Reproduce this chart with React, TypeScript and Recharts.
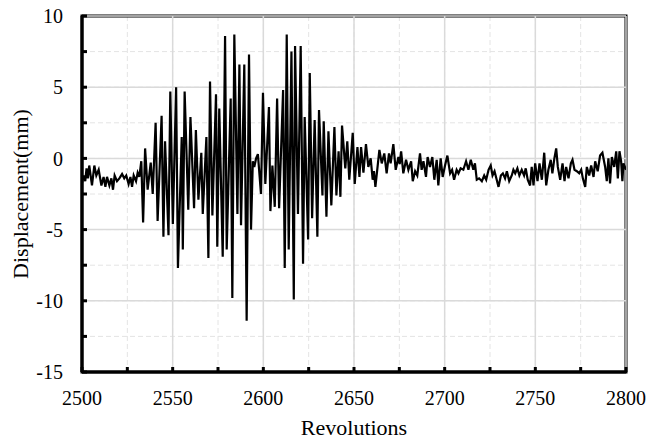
import React from 'react';
import { LineChart, Line, XAxis, YAxis, CartesianGrid, ReferenceLine, ReferenceArea } from 'recharts';

const revolutions = [
  2500.0, 2501.0, 2501.8, 2502.5, 2503.2, 2504.0, 2505.5, 2506.8, 2507.9, 2509.2,
  2510.7, 2511.9, 2512.9, 2513.8, 2515.1, 2516.2, 2517.1, 2518.0, 2519.3, 2520.6,
  2522.1, 2523.3, 2524.4, 2525.7, 2526.7, 2527.6, 2528.5, 2529.8, 2530.7, 2531.6,
  2532.7, 2533.7, 2534.8, 2536.2, 2537.9, 2539.0, 2540.6, 2541.7, 2543.9, 2544.9,
  2545.8, 2547.7, 2548.7, 2550.1, 2551.9, 2552.9, 2555.0, 2555.6, 2556.6, 2558.6,
  2559.8, 2561.8, 2562.8, 2564.2, 2565.8, 2566.6, 2568.6, 2569.7, 2570.6, 2571.9,
  2573.9, 2574.6, 2575.7, 2577.6, 2578.9, 2579.8, 2582.0, 2582.9, 2584.0, 2585.7,
  2586.8, 2587.7, 2589.5, 2590.8, 2592.1, 2593.2, 2594.2, 2595.0, 2596.0, 2597.0,
  2598.7, 2599.8, 2601.1, 2603.1, 2603.9, 2605.0, 2606.3, 2607.6, 2608.7, 2610.9,
  2611.8, 2612.9, 2614.0, 2615.5, 2616.8, 2617.5, 2619.1, 2620.6, 2621.9, 2622.8,
  2624.7, 2625.6, 2626.9, 2628.3, 2629.8, 2630.7, 2632.6, 2633.3, 2634.8, 2635.9,
  2637.5, 2639.2, 2640.3, 2641.5, 2642.5, 2643.4, 2645.2, 2646.3, 2647.4, 2649.3,
  2650.4, 2651.9, 2653.0, 2653.9, 2655.2, 2656.6, 2657.9, 2659.2, 2660.3, 2661.0,
  2661.8, 2664.0, 2665.3, 2666.7, 2668.0, 2669.3, 2670.2, 2671.7, 2673.0, 2674.5,
  2675.2, 2676.0, 2677.2, 2678.7, 2680.0, 2681.5, 2682.4, 2683.7, 2684.9, 2686.4,
  2687.3, 2688.3, 2689.7, 2690.6, 2691.9, 2693.2, 2694.3, 2695.6, 2696.5, 2697.8,
  2698.9, 2700.2, 2701.5, 2703.0, 2704.1, 2705.2, 2706.6, 2707.6, 2708.8, 2710.3,
  2711.8, 2713.1, 2714.4, 2715.8, 2716.7, 2717.7, 2719.0, 2720.5, 2721.8, 2722.9,
  2724.2, 2725.4, 2726.4, 2727.5, 2728.7, 2729.7, 2731.0, 2732.1, 2733.3, 2734.3,
  2735.6, 2737.0, 2737.9, 2738.9, 2740.1, 2741.2, 2742.5, 2743.8, 2744.7, 2745.8,
  2747.1, 2748.0, 2749.0, 2749.9, 2751.2, 2752.3, 2753.6, 2754.9, 2756.0, 2757.2,
  2758.5, 2759.4, 2760.5, 2761.5, 2762.4, 2763.7, 2765.0, 2766.1, 2767.0, 2768.3,
  2769.6, 2770.5, 2771.6, 2772.9, 2774.2, 2775.3, 2776.2, 2777.5, 2778.4, 2779.7,
  2780.8, 2782.1, 2783.0, 2784.4, 2785.7, 2787.0, 2788.5, 2789.4, 2790.3, 2791.2,
  2792.2, 2793.5, 2794.6, 2795.5, 2796.4, 2797.3, 2798.0, 2798.6, 2800.0,
];

const displacement = [
  -1.7, -1.2, -1.6, -0.7, -1.4, -0.5, -1.9, -0.5, -1.2, -0.8,
  -1.9, -1.3, -2.0, -1.3, -1.9, -1.4, -2.2, -1.2, -1.6, -1.4,
  -1.1, -1.4, -1.2, -1.8, -1.3, -2.0, -1.2, -1.6, -1.0, -1.3,
  -0.2, -4.5, 0.7, -2.2, -0.3, -2.5, 2.5, -4.4, 3.0, -5.5,
  1.2, -5.4, 4.7, -4.6, 5.0, -7.7, 1.5, -6.4, 4.7, -3.6,
  2.9, -3.5, 2.0, -2.9, 0.4, -3.9, 1.5, -7.0, 5.4, -4.0,
  4.5, -6.2, 3.5, -6.9, 8.6, -6.4, 4.2, -9.8, 8.7, -3.9,
  6.6, -4.7, 6.6, -11.4, 7.3, -5.0, -0.2, -0.6, 0.0, 0.3,
  -2.5, 4.6, -1.8, 3.6, -3.7, -0.5, -3.4, 4.2, -3.5, 4.8,
  -7.7, 8.7, -6.4, 7.5, -9.9, 7.9, -3.9, 7.9, -7.4, 2.9,
  -5.7, 6.0, -4.2, 2.7, -5.5, 3.4, -2.6, 2.6, -4.1, 1.9,
  -3.3, 2.2, -2.6, 0.5, -2.7, 2.3, -0.7, 1.2, -1.5, 1.8,
  -1.8, 0.8, -1.3, 0.8, -1.0, 1.0, -0.6, 0.0, -1.5, -0.9,
  -2.0, 0.6, -0.35, 0.35, -1.05, 0.35, -0.35, 1.0, -0.8, 0.1,
  -0.4, 0.5, -1.05, -0.1, -0.8, -0.2, -1.6, -0.9, -1.2, 0.35,
  -0.8, -0.2, -1.3, 0.1, -0.6, 0.1, -1.5, -0.1, -1.9, 0.0,
  -1.3, -0.5, 0.2, -1.05, -0.8, -1.5, -0.8, -1.05, -0.7, -0.8,
  -0.2, -0.8, -0.1, -0.8, -0.35, -1.5, -1.4, -1.6, -1.2, -1.5,
  -0.8, -0.5, -1.2, -0.9, -1.5, -2.0, -1.2, -1.05, -1.4, -0.9,
  -1.6, -1.2, -0.8, -1.05, -0.7, -1.2, -0.8, -1.2, -0.7, -1.5,
  -1.9, -0.6, -1.9, -0.35, -1.6, -0.35, -1.5, 0.4, -1.9, -0.8,
  -0.1, -1.05, 0.0, 0.7, -0.6, -1.5, -0.35, -1.6, -0.6, -1.4,
  -0.35, -0.1, -0.8, -0.9, -1.05, -0.8, -1.4, -2.0, -0.6, -1.2,
  -0.5, -1.3, -0.2, -0.9, 0.2, 0.4, -0.6, -1.6, 0.0, -1.75,
  0.1, -0.6, 0.5, -1.4, 0.5, -0.2, -1.6, -0.35, -0.8,
];

const xMajorTicks = [2500, 2550, 2600, 2650, 2700, 2750, 2800];
const xMinorTicks = [2525, 2575, 2625, 2675, 2725, 2775];
const yMajorTicks = [-15, -10, -5, 0, 5, 10];
const yMinorTicks = [-12.5, -7.5, -2.5, 2.5, 7.5];

const data = revolutions.map((r, i) => ({ rev: r, disp: displacement[i] }));
const xTicks = [...xMajorTicks, ...xMinorTicks].sort((a, b) => a - b);
const yTicks = [...yMajorTicks, ...yMinorTicks].sort((a, b) => a - b);

const FONT = '"Liberation Serif", "Times New Roman", serif';

export default function App() {
  return (
    <div style={{ position: 'absolute', left: 0, top: 0, width: 649, height: 441, background: '#fff' }}>
      <LineChart width={649} height={441} data={data} margin={{ top: 16, right: 23, bottom: 0, left: 0 }}>
        <CartesianGrid stroke="#e4e4e4" strokeDasharray="5 3" strokeWidth={1} />
        {xMajorTicks.map((v) => (
          <ReferenceLine key={'gx' + v} x={v} stroke="#dadada" strokeWidth={1.5} />
        ))}
        {yMajorTicks.map((v) => (
          <ReferenceLine key={'gy' + v} y={v} stroke="#dadada" strokeWidth={1.5} />
        ))}
        <XAxis
          dataKey="rev"
          type="number"
          domain={[2500, 2800]}
          allowDataOverflow
          ticks={xTicks}
          interval={0}
          tickFormatter={(v: number) => (xMajorTicks.includes(v) ? String(v) : '')}
          height={69}
          tickSize={-5}
          tickMargin={24}
          axisLine={{ stroke: '#000', strokeWidth: 3 }}
          tickLine={{ stroke: '#000', strokeWidth: 3 }}
          tick={{ fill: '#000', fontSize: 20, fontFamily: FONT }}
          label={{ value: 'Revolutions', position: 'insideBottom', offset: 6, fill: '#000', fontSize: 22, fontFamily: FONT }}
        />
        <XAxis
          xAxisId="top"
          orientation="top"
          type="number"
          domain={[2500, 2800]}
          height={0}
          tick={false}
          tickLine={false}
          axisLine={{ stroke: '#000', strokeWidth: 3 }}
        />
        <YAxis
          type="number"
          domain={[-15, 10]}
          allowDataOverflow
          ticks={yTicks}
          interval={0}
          tickFormatter={(v: number) => (yMajorTicks.includes(v) ? String(v) : '')}
          width={82}
          tickSize={-5}
          tickMargin={24}
          axisLine={{ stroke: '#000', strokeWidth: 3 }}
          tickLine={{ stroke: '#000', strokeWidth: 3 }}
          tick={{ fill: '#000', fontSize: 20, fontFamily: FONT }}
          label={{
            value: 'Displacement(mm)',
            angle: -90,
            position: 'insideLeft',
            offset: 20,
            style: { textAnchor: 'middle' },
            fill: '#000',
            fontSize: 22,
            fontFamily: FONT,
          }}
        />
        <YAxis
          yAxisId="right"
          orientation="right"
          type="number"
          domain={[-15, 10]}
          width={0}
          tick={false}
          tickLine={false}
          axisLine={{ stroke: '#000', strokeWidth: 3 }}
        />
        <Line
          dataKey="disp"
          type="linear"
          stroke="#000"
          strokeWidth={2.2}
          dot={false}
          isAnimationActive={false}
        />
        <ReferenceArea
          x1={2500}
          x2={2800}
          y1={-15}
          y2={10}
          fill="none"
          fillOpacity={0}
          stroke="#000"
          strokeWidth={3}
          strokeOpacity={1}
        />
      </LineChart>
    </div>
  );
}
